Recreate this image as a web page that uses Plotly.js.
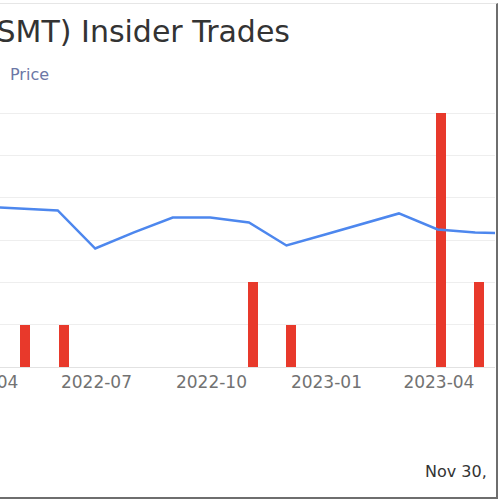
<!DOCTYPE html>
<html>
<head>
<meta charset="utf-8">
<script src="https://cdn.plot.ly/plotly-3.0.1.min.js"></script>
<style>
    body { margin: 0; background: white; }
    #frame {
        position: absolute; left: 0; top: 3px;
        width: 496px; height: 493px; overflow: hidden;
        border-top: 1px solid #e6e6e6;
        border-right: 2px solid #6e6e6e;
        border-bottom: 2px solid #6e6e6e;
    }
    #chart { position: absolute; left: -100px; top: -4px; width: 600px; height: 500px; }
</style>
</head>
<body>
<div id="frame"><div id="chart"></div></div>
<script>
// Insider trades (shares) and month-end closing price
const tradeDates = ['2022-05-05', '2022-06-05', '2022-11-03', '2022-12-04', '2023-04-03', '2023-05-03'];
const tradeShares = [5000, 5000, 10000, 5000, 30000, 10000];

const priceDates = ['2022-03-31', '2022-04-30', '2022-05-31', '2022-06-30', '2022-07-31', '2022-08-31',
                    '2022-09-30', '2022-10-31', '2022-11-30', '2022-12-31', '2023-01-31', '2023-02-28',
                    '2023-03-31', '2023-04-30', '2023-05-31'];
const priceValues = [19.0, 18.76, 18.52, 14.02, 15.92, 17.69, 17.69, 17.1, 14.38, 15.68, 16.98, 18.17,
                     16.27, 15.92, 15.8];

const bars = {
    x: tradeDates,
    y: tradeShares,
    type: 'bar',
    name: 'Shares Traded',
    width: 8 * 86400000,
    marker: { color: '#e8392b' },
    hoverinfo: 'x+y'
};

const priceLine = {
    x: priceDates,
    y: priceValues,
    type: 'scatter',
    mode: 'lines',
    name: 'Price',
    yaxis: 'y2',
    line: { color: '#4d87ee', width: 2.5 }
};

const layout = {
    width: 600,
    height: 500,
    title: {
        text: '(SMT) Insider Trades',
        font: { size: 30, family: 'DejaVu Sans, sans-serif', color: '#333333' },
        xref: 'container', x: 390 / 600, xanchor: 'right',
        yref: 'container', y: 1 - 31 / 500, yanchor: 'middle'
    },
    showlegend: false,
    bargap: 0,
    xaxis: {
        type: 'date',
        range: ['2022-03-13 19:00', '2023-05-15 21:00'],
        tick0: '2022-01-01',
        dtick: 'M3',
        tickformat: '%Y-%m',
        ticks: '',
        showgrid: false,
        showline: true,
        linecolor: '#e2e2e2',
        tickfont: { size: 17, family: 'DejaVu Sans, sans-serif', color: '#727272' }
    },
    yaxis: {
        range: [0, 31000],
        dtick: 5000,
        showgrid: true,
        gridcolor: '#eeeeee',
        zeroline: false,
        showticklabels: false
    },
    yaxis2: {
        range: [0, 31],
        dtick: 5,
        overlaying: 'y',
        side: 'left',
        showgrid: false,
        zeroline: false,
        showticklabels: false
    },
    annotations: [
        {
            text: 'Price',
            xref: 'paper', yref: 'paper',
            x: (108 - 60) / 535, xanchor: 'left',
            y: (367 - 75) / 262, yanchor: 'middle',
            showarrow: false,
            font: { size: 16, family: 'DejaVu Sans, sans-serif', color: '#6c77a6' }
        },
        {
            text: 'Nov 30,',
            xref: 'paper', yref: 'paper',
            x: (523 - 60) / 535, xanchor: 'left',
            y: (367 - 471) / 262, yanchor: 'middle',
            showarrow: false,
            font: { size: 16, family: 'DejaVu Sans, sans-serif', color: '#333333' }
        }
    ],
    plot_bgcolor: 'white',
    paper_bgcolor: 'white',
    margin: { l: 60, r: 5, t: 105, b: 133 }
};

Plotly.newPlot('chart', [bars, priceLine], layout, { displayModeBar: false, staticPlot: true });
</script>
</body>
</html>
